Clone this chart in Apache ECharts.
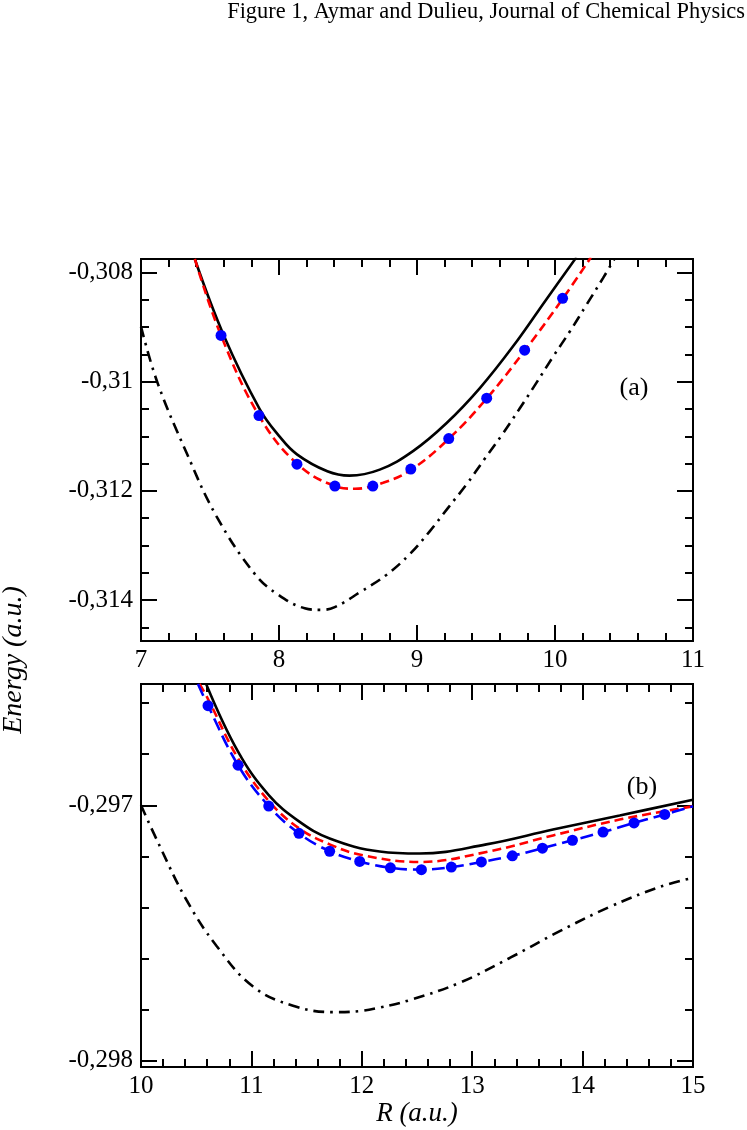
<!DOCTYPE html>
<html>
<head>
<meta charset="utf-8">
<script src="https://cdn.jsdelivr.net/npm/echarts@6/dist/echarts.min.js"></script>
<style>
  html, body { margin: 0; padding: 0; background: #fff; }
  #chart { width: 747px; height: 1130px; }
</style>
</head>
<body>
<div id="chart"></div>
<script>
// ---- panel (a) : R in [7,11] ----
var aSolid = [[7.39,-0.30775],[7.6,-0.30915],[7.86,-0.3105],[8.0,-0.31099],[8.13,-0.31133],[8.35,-0.31164],[8.51,-0.31172],
              [8.73,-0.31161],[8.971,-0.31127],[9.213,-0.31076],[9.454,-0.31012],[9.696,-0.30935],[9.937,-0.30849],
              [10.155,-0.30772]];
var aDashed = [[7.39,-0.30775],[7.58,-0.30915],[7.855,-0.31062],[8.13,-0.3115],[8.405,-0.31191],[8.55,-0.31196],
               [8.754,-0.31185],[8.959,-0.31161],[9.232,-0.31104],[9.507,-0.3103],[9.78,-0.30943],[10.058,-0.30847],
               [10.26,-0.30772]];
var aDashDot = [[7.0,-0.30899],[7.12,-0.31002],[7.33,-0.3113],[7.546,-0.31246],[7.824,-0.31352],[7.993,-0.3139],
                [8.186,-0.31415],[8.3,-0.31418],[8.404,-0.31413],[8.59,-0.31385],[8.778,-0.31354],[8.947,-0.31316],
                [9.092,-0.31274],[9.225,-0.31231],[9.362,-0.31187],[9.491,-0.31141],[9.619,-0.31096],[9.744,-0.31049],
                [9.865,-0.31002],[9.986,-0.30954],[10.107,-0.30908],[10.228,-0.30859],[10.348,-0.3081],[10.43,-0.30775]];
var aDotR = [7.58, 7.855, 8.13, 8.405, 8.68, 8.955, 9.23, 9.505, 9.78, 10.055];
var aDotE = [-0.30915, -0.31062, -0.31151, -0.31191, -0.31191, -0.3116, -0.31104, -0.3103, -0.30942, -0.30847];

// ---- panel (b) : R in [10,15] ----
var bSolid = [[10.59,-0.296525],[10.879,-0.29679],[11.157,-0.29696],[11.431,-0.297063],[11.709,-0.29713],
              [12.162,-0.297181],[12.524,-0.297189],[13.128,-0.297153],[13.732,-0.297095],[14.336,-0.29704],[15,-0.296978]];
var bDashed = [[10.53,-0.296525],[10.607,-0.296584],[10.879,-0.296816],[11.157,-0.296983],[11.431,-0.29709],
               [11.709,-0.297153],[12.011,-0.297196],[12.524,-0.297222],[13.128,-0.297183],[13.732,-0.297118],
               [14.336,-0.297056],[15,-0.297004]];
var bDashDot = [[10.0,-0.297],[10.17,-0.29716],[10.411,-0.29737],[10.683,-0.29755],[11.015,-0.29771],[11.377,-0.297785],
                [11.739,-0.29781],[11.98,-0.297806],[12.162,-0.297792],[12.434,-0.297763],[12.887,-0.297695],
                [13.34,-0.297598],[13.793,-0.297493],[14.245,-0.297398],[14.698,-0.29732],[15,-0.297284]];
var bDotR = [10.607, 10.879, 11.157, 11.431, 11.709, 11.981, 12.259, 12.54, 12.811, 13.083, 13.364, 13.636, 13.908, 14.185, 14.466, 14.744];
var bDotE = [-0.29661, -0.296843, -0.297003, -0.29711, -0.29718, -0.29722, -0.297245, -0.297252, -0.297242, -0.297222,
             -0.297198, -0.297168, -0.297137, -0.297105, -0.297069, -0.297036];
var bBlueStart = [10.516, -0.296525];
var bBlueEnd = [15, -0.297004];

// ---- axes ----
var aRange = [7, 11], aEnergy = [-0.31475, -0.30775];
var bRange = [10, 15], bEnergy = [-0.298025, -0.296525];
var aMajorE = [-0.314, -0.312, -0.31, -0.308];
var aMinorE = [-0.3145, -0.3135, -0.313, -0.3125, -0.3115, -0.311, -0.3105, -0.3095, -0.309, -0.3085];
var bMajorE = [-0.298, -0.297];
var bMinorE = [-0.2978, -0.2976, -0.2974, -0.2972, -0.2968, -0.2966];

var FONT = 'Liberation Serif, Times New Roman, serif';
var TICK_FONT = 25;

function zip(xs, ys) {
    return xs.map(function (x, i) { return [x, ys[i]]; });
}

function fmtE(v) {
    return String(+(+v).toFixed(6)).replace('.', ',');
}

// 横轴：底部带标签，顶部只画刻度
function xAxisPair(grid, range, nameText) {
    var base = {
        gridIndex: grid, type: 'value', min: range[0], max: range[1], interval: 1,
        axisLine: { show: true, onZero: false, lineStyle: { color: '#000', width: 2 } },
        axisTick: { show: true, inside: true, length: 16, lineStyle: { color: '#000', width: 2 } },
        minorTick: { show: true, splitNumber: 5, length: 8, lineStyle: { color: '#000', width: 2 } },
        splitLine: { show: false }
    };
    var bottom = Object.assign({}, base, {
        position: 'bottom',
        axisLabel: { show: true, margin: 7, color: '#000', fontFamily: FONT, fontSize: TICK_FONT }
    });
    if (nameText) {
        bottom.name = nameText;
        bottom.nameLocation = 'middle';
        bottom.nameGap = 33;
        bottom.nameTextStyle = { color: '#000', fontFamily: FONT, fontSize: 27, fontStyle: 'italic' };
    }
    var top = Object.assign({}, base, { position: 'top', axisLabel: { show: false } });
    return [bottom, top];
}

// 纵轴：左右各两根，一根画主刻度（左边带标签），一根画次刻度
function yAxisSet(grid, range, majors, minors) {
    function ax(pos, vals, len, label) {
        return {
            gridIndex: grid, type: 'value', position: pos, min: range[0], max: range[1],
            axisLine: { show: true, onZero: false, lineStyle: { color: '#000', width: 2 } },
            axisTick: { show: true, inside: true, length: len, customValues: vals, lineStyle: { color: '#000', width: 2 } },
            axisLabel: label ? { show: true, margin: 8, customValues: majors, formatter: fmtE,
                                 color: '#000', fontFamily: FONT, fontSize: TICK_FONT } : { show: false },
            splitLine: { show: false }
        };
    }
    return [ax('left', majors, 16, true), ax('left', minors, 8, false),
            ax('right', majors, 16, false), ax('right', minors, 8, false)];
}

var xAxes = xAxisPair(0, aRange).concat(xAxisPair(1, bRange, 'R (a.u.)'));
var yAxes = yAxisSet(0, aEnergy, aMajorE, aMinorE).concat(yAxisSet(1, bEnergy, bMajorE, bMinorE));

function line(data, xi, yi, color, type) {
    return {
        type: 'line', xAxisIndex: xi, yAxisIndex: yi, data: data, smooth: 0.4,
        showSymbol: false, symbol: 'none', silent: true, clip: true,
        lineStyle: { color: color, width: 2.6, type: type, cap: 'butt' }
    };
}

function dots(data, xi, yi) {
    return {
        type: 'scatter', xAxisIndex: xi, yAxisIndex: yi, data: data, symbol: 'circle', symbolSize: 11,
        itemStyle: { color: '#0000ff', opacity: 1 }, silent: true, z: 5
    };
}

var DASH_DOT = [11, 6, 2.5, 6];

var option = {
    animation: false,
    backgroundColor: '#fff',
    title: {
        text: 'Figure 1, Aymar and Dulieu, Journal of Chemical Physics',
        right: 2, top: 1, padding: 0,
        textStyle: { color: '#000', fontFamily: FONT, fontWeight: 'normal', fontSize: 22.4 }
    },
    grid: [
        { left: 141, top: 259, width: 552, height: 382 },
        { left: 141, top: 684, width: 552, height: 383 }
    ],
    xAxis: xAxes,
    yAxis: yAxes,
    graphic: [
        { type: 'text', x: 634, y: 388,
          style: { text: '(a)', fill: '#000', font: '26px ' + FONT, align: 'center', verticalAlign: 'middle' } },
        { type: 'text', x: 642, y: 787,
          style: { text: '(b)', fill: '#000', font: '26px ' + FONT, align: 'center', verticalAlign: 'middle' } },
        { type: 'text', x: 14, y: 660, rotation: Math.PI / 2,
          style: { text: 'Energy (a.u.)', fill: '#000', font: 'italic 28px ' + FONT, align: 'center', verticalAlign: 'middle' } }
    ],
    series: [
        line(aDashDot, 0, 0, '#000', DASH_DOT),
        line(aSolid, 0, 0, '#000', 'solid'),
        line(aDashed, 0, 0, '#ff0000', [9, 5]),
        dots(zip(aDotR, aDotE), 0, 0),

        line(bDashDot, 2, 4, '#000', DASH_DOT),
        line(bSolid, 2, 4, '#000', 'solid'),
        line(bDashed, 2, 4, '#ff0000', [9, 5]),
        line([bBlueStart].concat(zip(bDotR, bDotE), [bBlueEnd]), 2, 4, '#0000ff', [13, 6]),
        dots(zip(bDotR, bDotE), 2, 4)
    ]
};

var chart = echarts.init(document.getElementById('chart'), null, { renderer: 'canvas' });
chart.setOption(option);
</script>
</body>
</html>
